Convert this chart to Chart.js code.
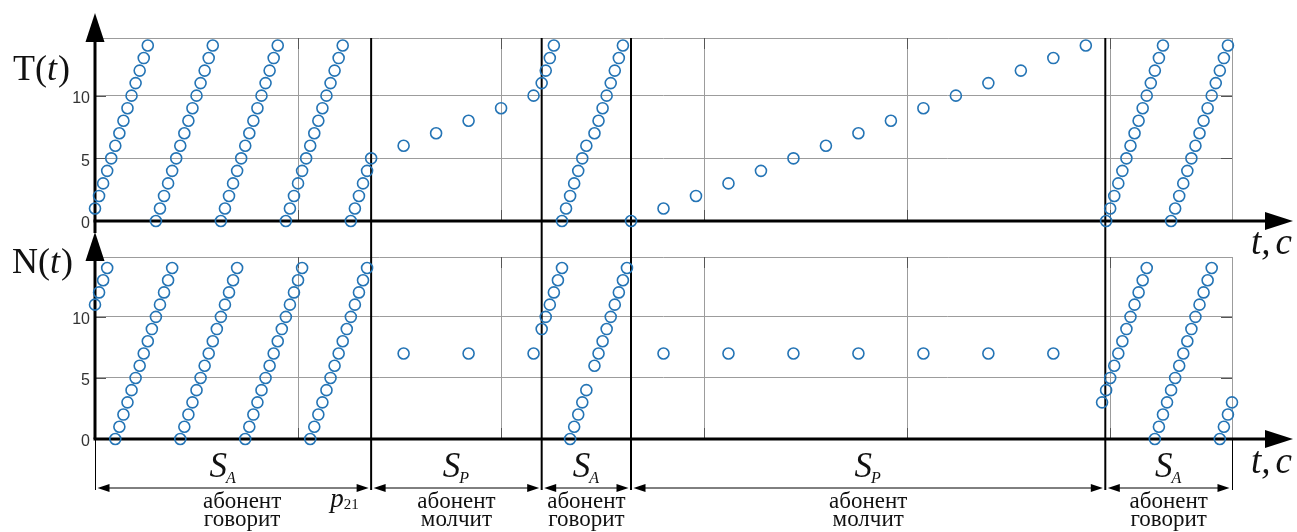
<!DOCTYPE html>
<html>
<head>
<meta charset="utf-8">
<script src="https://cdn.jsdelivr.net/npm/chart.js@4.4.0/dist/chart.umd.min.js"></script>
<style>
html, body { margin: 0; padding: 0; background: #fff; }
#wrap { position: relative; width: 1297px; height: 532px; }
#wrap canvas { position: absolute; left: 0; top: 0; }
</style>
</head>
<body>
<div id="wrap">
  <canvas id="chartT" width="1297" height="532"></canvas>
  <canvas id="chartN" width="1297" height="532"></canvas>
</div>
<script>
// кадры по 20 мс, сетка через 50 кадров (1 с)
const tFrames = [
  0,1,2,3,4,5,6,7,8,9,10,11,12,13,
  15,16,17,18,19,20,21,22,23,24,25,26,27,28,29,
  31,32,33,34,35,36,37,38,39,40,41,42,43,44,45,
  47,48,49,50,51,52,53,54,55,56,57,58,59,60,61,
  63,64,65,66,67,68,
  76,84,92,100,108,
  110,111,112,113,
  115,116,117,118,119,120,121,
  123,124,125,126,127,128,129,130,
  132,140,148,156,164,172,180,188,196,204,212,220,228,236,244,
  249,250,251,252,253,254,255,256,257,258,259,260,261,262,263,
  265,266,267,268,269,270,271,272,273,274,275,276,277,278,279
];
const tValues = [
  1,2,3,4,5,6,7,8,9,10,11,12,13,14,
  0,1,2,3,4,5,6,7,8,9,10,11,12,13,14,
  0,1,2,3,4,5,6,7,8,9,10,11,12,13,14,
  0,1,2,3,4,5,6,7,8,9,10,11,12,13,14,
  0,1,2,3,4,5,
  6,7,8,9,10,
  11,12,13,14,
  0,1,2,3,4,5,6,
  7,8,9,10,11,12,13,14,
  0,1,2,3,4,5,6,7,8,9,10,11,12,13,14,
  0,1,2,3,4,5,6,7,8,9,10,11,12,13,14,
  0,1,2,3,4,5,6,7,8,9,10,11,12,13,14
];

const nFrames = [
  0,1,2,3,
  5,6,7,8,9,10,11,12,13,14,15,16,17,18,19,
  21,22,23,24,25,26,27,28,29,30,31,32,33,34,35,
  37,38,39,40,41,42,43,44,45,46,47,48,49,50,51,
  53,54,55,56,57,58,59,60,61,62,63,64,65,66,67,
  76,92,108,
  110,111,112,113,114,115,
  117,118,119,120,121,
  123,124,125,126,127,128,129,130,131,
  140,156,172,188,204,220,236,
  248,249,250,251,252,253,254,255,256,257,258,259,
  261,262,263,264,265,266,267,268,269,270,271,272,273,274,275,
  277,278,279,280
];
const nValues = [
  11,12,13,14,
  0,1,2,3,4,5,6,7,8,9,10,11,12,13,14,
  0,1,2,3,4,5,6,7,8,9,10,11,12,13,14,
  0,1,2,3,4,5,6,7,8,9,10,11,12,13,14,
  0,1,2,3,4,5,6,7,8,9,10,11,12,13,14,
  7,7,7,
  9,10,11,12,13,14,
  0,1,2,3,4,
  6,7,8,9,10,11,12,13,14,
  7,7,7,7,7,7,7,
  3,4,5,6,7,8,9,10,11,12,13,14,
  0,1,2,3,4,5,6,7,8,9,10,11,12,13,14,
  0,1,2,3
];

const yTicks = [0, 5, 10];
const xGrid = [50, 100, 150, 200, 250];
const frameMax = 280;

// участки: S_A / S_P
const segBounds = [0, 68, 110, 132, 248.8, 280];
const segSub = ['A', 'P', 'A', 'P', 'A'];
const segText = [
  ['абонент', 'говорит'],
  ['абонент', 'молчит'],
  ['абонент', 'говорит'],
  ['абонент', 'молчит'],
  ['абонент', 'говорит']
];

const BLUE = '#2474b5';
const GRID = '#9c9c9c';
const SERIF = '"Liberation Serif", "Times New Roman", serif';

function tri(ctx, x1, y1, x2, y2, x3, y3) {
  ctx.beginPath();
  ctx.moveTo(x1, y1); ctx.lineTo(x2, y2); ctx.lineTo(x3, y3);
  ctx.closePath();
  ctx.fill();
}

function richText(ctx, parts, x, y) {
  parts.forEach(p => {
    ctx.font = p[1];
    ctx.fillText(p[0], x, y + (p[2] || 0));
    x += ctx.measureText(p[0]).width + (p[3] || 0);
  });
}

// рамка, оси со стрелками, границы участков
function drawFrame(chart, below, axisBelow) {
  const ctx = chart.ctx, a = chart.chartArea;
  const x = chart.scales.x, y = chart.scales.y;
  ctx.save();
  ctx.strokeStyle = GRID; ctx.lineWidth = 1;
  ctx.beginPath();
  ctx.moveTo(a.left, a.top + 0.5); ctx.lineTo(a.right + 0.5, a.top + 0.5); ctx.lineTo(a.right + 0.5, a.bottom);
  ctx.stroke();

  ctx.strokeStyle = '#555';
  ctx.beginPath();
  yTicks.forEach(v => {
    if (v === 0) return;
    const py = Math.round(y.getPixelForValue(v)) + 0.5;
    ctx.moveTo(a.left, py); ctx.lineTo(a.left + 11, py);
    ctx.moveTo(a.right - 11, py); ctx.lineTo(a.right, py);
  });
  xGrid.forEach(v => {
    const px = Math.round(x.getPixelForValue(v)) + 0.5;
    ctx.moveTo(px, a.top); ctx.lineTo(px, a.top + 11);
    ctx.moveTo(px, a.bottom - 11); ctx.lineTo(px, a.bottom);
  });
  ctx.stroke();

  ctx.strokeStyle = '#000';
  ctx.lineWidth = 2;
  segBounds.slice(1, -1).forEach(b => {
    const px = x.getPixelForValue(b);
    ctx.beginPath(); ctx.moveTo(px, a.top); ctx.lineTo(px, a.bottom + below); ctx.stroke();
  });

  ctx.fillStyle = '#000';
  ctx.lineWidth = 3;
  ctx.beginPath(); ctx.moveTo(a.left - 1.5, a.bottom); ctx.lineTo(a.right + 36, a.bottom); ctx.stroke();
  tri(ctx, a.right + 61, a.bottom, a.right + 33, a.bottom - 9, a.right + 33, a.bottom + 9);

  ctx.beginPath(); ctx.moveTo(a.left, a.bottom + axisBelow); ctx.lineTo(a.left, a.top - 10); ctx.stroke();
  tri(ctx, a.left, a.top - 25, a.left - 9.5, a.top + 4, a.left + 9.5, a.top + 4);
  ctx.restore();
}

const topDecor = {
  id: 'topDecor',
  beforeDatasetsDraw(chart) {
    drawFrame(chart, 36, 12);
    const ctx = chart.ctx;
    ctx.save();
    ctx.fillStyle = '#111';
    ctx.textBaseline = 'alphabetic';
    richText(ctx, [['T(', '36px ' + SERIF], ['t', 'italic 36px ' + SERIF, 0, 1], [')', '36px ' + SERIF]], 13, 80);
    richText(ctx, [['t', 'italic 37px ' + SERIF], [',', 'italic 37px ' + SERIF, 0, 5], ['c', 'italic 37px ' + SERIF]], 1251, 254);
    ctx.restore();
  }
};

const bottomDecor = {
  id: 'bottomDecor',
  beforeDatasetsDraw(chart) {
    drawFrame(chart, 51, 0);
    const ctx = chart.ctx, a = chart.chartArea, x = chart.scales.x;
    ctx.save();
    ctx.fillStyle = '#111';
    richText(ctx, [['N(', '36px ' + SERIF], ['t', 'italic 36px ' + SERIF, 0, 1], [')', '36px ' + SERIF]], 12, 273);
    richText(ctx, [['t', 'italic 37px ' + SERIF], [',', 'italic 37px ' + SERIF, 0, 5], ['c', 'italic 37px ' + SERIF]], 1251, 473);

    // тонкие выносные линии по краям
    ctx.strokeStyle = '#000'; ctx.lineWidth = 1;
    ctx.beginPath();
    ctx.moveTo(a.left + 0.5, a.bottom); ctx.lineTo(a.left + 0.5, a.bottom + 51);
    ctx.moveTo(a.right + 0.5, a.bottom); ctx.lineTo(a.right + 0.5, a.bottom + 51);
    ctx.stroke();

    const yArr = a.bottom + 49;
    ctx.fillStyle = '#000';
    for (let i = 0; i < segSub.length; i++) {
      const x1 = x.getPixelForValue(segBounds[i]) + 2.5;
      const x2 = x.getPixelForValue(segBounds[i + 1]) - 2.5;
      ctx.beginPath(); ctx.moveTo(x1 + 4, yArr); ctx.lineTo(x2 - 4, yArr); ctx.stroke();
      tri(ctx, x1, yArr, x1 + 12, yArr - 4, x1 + 12, yArr + 4);
      tri(ctx, x2, yArr, x2 - 12, yArr - 4, x2 - 12, yArr + 4);

      const cx = (x1 + x2) / 2 + (i === 0 ? -10 : 0);
      ctx.fillStyle = '#111';
      ctx.font = 'italic 35px ' + SERIF;
      const sw = ctx.measureText('S').width;
      ctx.font = 'italic 16px ' + SERIF;
      const aw = ctx.measureText(segSub[i]).width;
      const sx = cx - (sw + aw) / 2;
      ctx.textAlign = 'left';
      ctx.font = 'italic 35px ' + SERIF;
      ctx.fillText('S', sx, a.bottom + 38);
      ctx.font = 'italic 16px ' + SERIF;
      ctx.fillText(segSub[i], sx + sw - 1, a.bottom + 44);

      const tx = (x1 + x2) / 2 + (i === 0 ? 9 : 0);
      ctx.textAlign = 'center';
      ctx.font = '23px ' + SERIF;
      ctx.fillText(segText[i][0], tx, a.bottom + 69);
      ctx.fillText(segText[i][1], tx, a.bottom + 87);
      ctx.textAlign = 'left';
      ctx.fillStyle = '#000';
    }

    // p21 у конца первого участка
    const px = x.getPixelForValue(segBounds[1]) - 41;
    ctx.fillStyle = '#111';
    richText(ctx, [['p', 'italic 27px ' + SERIF], ['21', '15px ' + SERIF, 2]], px, a.bottom + 68);
    ctx.restore();
  }
};

function makeChart(id, frames, values, yMax, padTop, padBottom, decor) {
  const ctx = document.getElementById(id).getContext('2d');
  return new Chart(ctx, {
    type: 'scatter',
    data: {
      datasets: [{
        data: frames.map((f, i) => ({ x: f, y: values[i] })),
        pointStyle: 'circle',
        pointRadius: 5.5,
        pointBorderWidth: 1.6,
        pointBorderColor: BLUE,
        pointBackgroundColor: 'rgba(0,0,0,0)',
        showLine: false,
        clip: false
      }]
    },
    options: {
      responsive: false,
      animation: false,
      devicePixelRatio: 1,
      layout: { padding: { left: 0, right: 65, top: padTop, bottom: padBottom } },
      plugins: { legend: { display: false }, tooltip: { enabled: false } },
      scales: {
        x: {
          type: 'linear', min: 0, max: frameMax,
          afterBuildTicks: s => { s.ticks = [0].concat(xGrid, [frameMax]).map(v => ({ value: v })); },
          ticks: { display: false },
          grid: { color: GRID, drawTicks: false, lineWidth: 1 },
          border: { display: false },
          afterFit: s => { s.height = 0; }
        },
        y: {
          min: 0, max: yMax,
          afterBuildTicks: s => { s.ticks = yTicks.map(v => ({ value: v })); },
          ticks: { color: '#333', font: { family: 'Liberation Sans', size: 16 }, padding: 5, labelOffset: 3 },
          grid: { color: GRID, drawTicks: false, lineWidth: 1 },
          border: { display: false },
          afterFit: s => { s.width = 95; }
        }
      }
    },
    plugins: [decor]
  });
}

makeChart('chartT', tFrames, tValues, 14.6, 38, 311, topDecor);
makeChart('chartN', nFrames, nValues, 14.9, 257, 93, bottomDecor);
</script>
</body>
</html>
